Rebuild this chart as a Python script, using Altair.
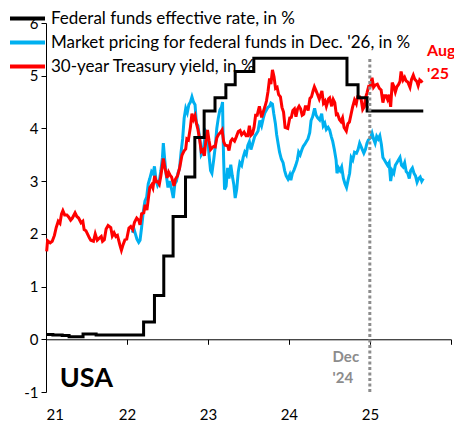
import altair as alt
import pandas as pd

# ---------------- data ----------------
S_EFFR = "Federal funds effective rate, in %"
S_MKT = "Market pricing for federal funds in Dec. '26, in %"
S_UST = "30-year Treasury yield, in %"
series_order = [S_EFFR, S_MKT, S_UST]
series_colors = ["#000000", "#00B0F0", "#FF0000"]

effr_dates = ["2021-01-01", "2021-02-01", "2021-03-15", "2021-04-15", "2021-06-17", "2021-08-15",
              "2022-03-17", "2022-05-05", "2022-06-16", "2022-07-28", "2022-09-22", "2022-11-03",
              "2022-12-15", "2023-02-02", "2023-03-23", "2023-05-04", "2023-07-27", "2024-09-19",
              "2024-11-08", "2024-12-19", "2025-08-29"]
effr_values = [0.09, 0.08, 0.07, 0.05, 0.10, 0.08,
               0.33, 0.83, 1.58, 2.33, 3.08, 3.83,
               4.33, 4.58, 4.83, 5.08, 5.33, 4.83,
               4.58, 4.33, 4.33]

ust_dates = ["2021-01-04", "2021-01-08", "2021-01-20", "2021-01-29", "2021-02-08", "2021-02-16", "2021-02-25",
             "2021-03-05", "2021-03-12", "2021-03-18", "2021-03-26", "2021-04-05", "2021-04-13", "2021-04-22",
             "2021-04-30", "2021-05-12", "2021-05-20", "2021-05-28", "2021-06-08", "2021-06-16", "2021-06-22",
             "2021-06-30", "2021-07-08", "2021-07-16", "2021-07-22", "2021-08-03", "2021-08-11", "2021-08-20",
             "2021-08-27", "2021-09-07", "2021-09-13", "2021-09-21", "2021-09-29", "2021-10-08", "2021-10-20",
             "2021-10-27", "2021-11-04", "2021-11-12", "2021-11-19", "2021-11-30", "2021-12-07", "2021-12-15",
             "2021-12-23", "2021-12-31", "2022-01-10", "2022-01-18", "2022-01-27", "2022-02-04", "2022-02-14",
             "2022-02-23", "2022-03-01", "2022-03-08", "2022-03-18", "2022-03-24", "2022-04-01", "2022-04-08",
             "2022-04-14", "2022-04-22", "2022-04-28", "2022-05-06", "2022-05-13", "2022-05-20", "2022-05-27",
             "2022-06-03", "2022-06-14", "2022-06-21", "2022-07-01", "2022-07-08", "2022-07-15", "2022-07-21",
             "2022-08-01", "2022-08-08", "2022-08-17", "2022-08-26", "2022-09-06", "2022-09-15", "2022-09-23",
             "2022-09-28", "2022-10-05", "2022-10-14", "2022-10-21", "2022-10-28", "2022-11-04", "2022-11-10",
             "2022-11-17", "2022-11-25", "2022-12-02", "2022-12-09", "2022-12-16", "2022-12-22", "2022-12-30",
             "2023-01-06", "2023-01-13", "2023-01-19", "2023-01-27", "2023-02-03", "2023-02-10", "2023-02-17",
             "2023-02-28", "2023-03-06", "2023-03-13", "2023-03-20", "2023-03-31", "2023-04-06", "2023-04-14",
             "2023-04-21", "2023-05-01", "2023-05-09", "2023-05-18", "2023-05-26", "2023-06-02", "2023-06-13",
             "2023-06-22", "2023-06-30", "2023-07-07", "2023-07-14", "2023-07-21", "2023-07-28", "2023-08-04",
             "2023-08-11", "2023-08-21", "2023-08-31", "2023-09-08", "2023-09-15", "2023-09-22", "2023-09-29",
             "2023-10-06", "2023-10-12", "2023-10-19", "2023-10-26", "2023-11-02", "2023-11-09", "2023-11-16",
             "2023-11-24", "2023-12-01", "2023-12-08", "2023-12-15", "2023-12-27", "2024-01-05", "2024-01-12",
             "2024-01-19", "2024-01-26", "2024-02-02", "2024-02-09", "2024-02-16", "2024-02-23", "2024-03-01",
             "2024-03-08", "2024-03-15", "2024-03-22", "2024-03-28", "2024-04-05", "2024-04-12", "2024-04-19",
             "2024-04-25", "2024-05-01", "2024-05-10", "2024-05-17", "2024-05-29", "2024-06-05", "2024-06-12",
             "2024-06-18", "2024-06-28", "2024-07-03", "2024-07-12", "2024-07-19", "2024-07-26", "2024-08-02",
             "2024-08-08", "2024-08-16", "2024-08-23", "2024-08-30", "2024-09-06", "2024-09-16", "2024-09-23",
             "2024-09-30", "2024-10-07", "2024-10-14", "2024-10-23", "2024-10-31", "2024-11-06", "2024-11-15",
             "2024-11-22", "2024-11-29", "2024-12-06", "2024-12-13", "2024-12-18", "2024-12-26", "2025-01-02",
             "2025-01-10", "2025-01-17", "2025-01-24", "2025-02-03", "2025-02-12", "2025-02-20", "2025-02-28",
             "2025-03-07", "2025-03-14", "2025-03-21", "2025-03-28", "2025-04-04", "2025-04-11", "2025-04-18",
             "2025-04-25", "2025-05-02", "2025-05-09", "2025-05-16", "2025-05-21", "2025-05-30", "2025-06-06",
             "2025-06-13", "2025-06-20", "2025-06-30", "2025-07-07", "2025-07-15", "2025-07-22", "2025-07-31",
             "2025-08-06", "2025-08-13", "2025-08-20", "2025-08-26"]
ust_values = [1.67, 1.87, 1.83, 1.86, 1.97, 2.12, 2.24,
              2.20, 2.38, 2.44, 2.36, 2.36, 2.32, 2.26,
              2.30, 2.40, 2.33, 2.30, 2.21, 2.24, 2.08,
              2.06, 1.99, 1.92, 1.88, 1.86, 2.00, 1.88,
              1.91, 1.95, 1.86, 1.89, 2.09, 2.16, 2.12,
              1.96, 2.02, 1.95, 1.97, 1.79, 1.69, 1.80,
              1.89, 1.90, 2.11, 2.14, 2.08, 2.22, 2.30,
              2.26, 2.17, 2.38, 2.40, 2.55, 2.45, 2.69,
              2.88, 2.93, 2.87, 3.10, 2.99, 2.99, 2.94,
              3.10, 3.43, 3.26, 3.06, 3.17, 3.11, 3.08,
              2.91, 3.04, 3.10, 3.24, 3.49, 3.57, 3.61,
              3.80, 3.78, 4.02, 4.28, 4.17, 4.24, 4.10,
              3.98, 3.78, 3.56, 3.59, 3.48, 3.74, 3.97,
              3.77, 3.60, 3.63, 3.66, 3.65, 3.82, 3.88,
              3.93, 3.97, 3.75, 3.68, 3.67, 3.58, 3.76,
              3.80, 3.76, 3.84, 3.94, 3.96, 3.88, 3.93,
              3.86, 3.86, 4.05, 3.87, 3.90, 4.02, 4.25,
              4.25, 4.42, 4.21, 4.32, 4.41, 4.52, 4.70,
              4.95, 4.84, 5.11, 4.98, 4.76, 4.78, 4.64,
              4.60, 4.40, 4.31, 4.02, 4.00, 4.20, 4.21,
              4.34, 4.37, 4.22, 4.37, 4.42, 4.37, 4.25,
              4.27, 4.41, 4.41, 4.34, 4.57, 4.60, 4.71,
              4.79, 4.73, 4.64, 4.56, 4.71, 4.48, 4.52,
              4.42, 4.56, 4.58, 4.42, 4.55, 4.49, 4.26,
              4.27, 4.17, 4.13, 4.20, 4.02, 3.95, 4.09,
              4.12, 4.26, 4.40, 4.54, 4.47, 4.60, 4.60,
              4.55, 4.36, 4.41, 4.60, 4.67, 4.80, 4.80,
              4.96, 4.78, 4.82, 4.84, 4.76, 4.73, 4.49,
              4.62, 4.62, 4.55, 4.64, 4.41, 4.87, 4.80,
              4.69, 4.79, 4.83, 4.89, 5.08, 4.92, 4.97,
              4.90, 4.88, 4.78, 4.93, 5.01, 4.93, 4.89,
              4.81, 4.92, 4.89, 4.91]

mkt_dates = ["2022-01-25", "2022-02-01", "2022-02-08", "2022-02-15", "2022-02-23", "2022-03-01", "2022-03-08",
             "2022-03-15", "2022-03-23", "2022-03-31", "2022-04-07", "2022-04-14", "2022-04-22", "2022-04-29",
             "2022-05-05", "2022-05-12", "2022-05-19", "2022-05-26", "2022-06-03", "2022-06-10", "2022-06-14",
             "2022-06-20", "2022-06-27", "2022-07-05", "2022-07-13", "2022-07-21", "2022-07-29", "2022-08-05",
             "2022-08-12", "2022-08-19", "2022-08-26", "2022-09-02", "2022-09-09", "2022-09-16", "2022-09-23",
             "2022-09-30", "2022-10-07", "2022-10-14", "2022-10-21", "2022-10-28", "2022-11-04", "2022-11-10",
             "2022-11-17", "2022-11-28", "2022-12-02", "2022-12-09", "2022-12-16", "2022-12-22", "2022-12-30",
             "2023-01-06", "2023-01-13", "2023-01-19", "2023-01-27", "2023-02-03", "2023-02-10", "2023-02-17",
             "2023-02-24", "2023-03-03", "2023-03-08", "2023-03-10", "2023-03-13", "2023-03-17", "2023-03-24",
             "2023-03-31", "2023-04-06", "2023-04-14", "2023-04-21", "2023-04-28", "2023-05-04", "2023-05-11",
             "2023-05-18", "2023-05-25", "2023-06-02", "2023-06-09", "2023-06-16", "2023-06-23", "2023-06-30",
             "2023-07-07", "2023-07-14", "2023-07-21", "2023-07-31", "2023-08-08", "2023-08-15", "2023-08-23",
             "2023-08-31", "2023-09-08", "2023-09-15", "2023-09-22", "2023-09-29", "2023-10-06", "2023-10-12",
             "2023-10-19", "2023-10-25", "2023-11-01", "2023-11-07", "2023-11-14", "2023-11-20", "2023-11-28",
             "2023-12-06", "2023-12-13", "2023-12-20", "2023-12-28", "2024-01-05", "2024-01-10", "2024-01-17",
             "2024-01-24", "2024-02-01", "2024-02-08", "2024-02-14", "2024-02-21", "2024-02-29", "2024-03-06",
             "2024-03-13", "2024-03-20", "2024-03-27", "2024-04-04", "2024-04-10", "2024-04-17", "2024-04-26",
             "2024-05-03", "2024-05-10", "2024-05-19", "2024-05-28", "2024-06-04", "2024-06-11", "2024-06-18",
             "2024-06-26", "2024-07-03", "2024-07-10", "2024-07-17", "2024-07-24", "2024-08-01", "2024-08-05",
             "2024-08-12", "2024-08-19", "2024-08-26", "2024-09-03", "2024-09-10", "2024-09-17", "2024-09-24",
             "2024-10-01", "2024-10-08", "2024-10-15", "2024-10-23", "2024-11-01", "2024-11-08", "2024-11-15",
             "2024-11-22", "2024-12-04", "2024-12-11", "2024-12-18", "2024-12-24", "2025-01-03", "2025-01-10",
             "2025-01-17", "2025-01-24", "2025-01-31", "2025-02-07", "2025-02-14", "2025-02-21", "2025-02-28",
             "2025-03-07", "2025-03-14", "2025-03-21", "2025-03-28", "2025-04-04", "2025-04-11", "2025-04-18",
             "2025-04-25", "2025-05-02", "2025-05-09", "2025-05-16", "2025-05-23", "2025-05-30", "2025-06-06",
             "2025-06-13", "2025-06-20", "2025-06-27", "2025-07-03", "2025-07-11", "2025-07-18", "2025-07-25",
             "2025-08-01", "2025-08-08", "2025-08-15", "2025-08-22", "2025-08-29"]
mkt_values = [2.02, 2.10, 2.00, 1.90, 1.84, 1.88, 2.12,
              2.40, 2.62, 2.70, 2.95, 3.05, 3.18, 3.14,
              3.28, 3.02, 2.92, 2.98, 3.20, 3.45, 3.72,
              3.42, 3.12, 2.88, 3.00, 2.85, 2.68, 2.95,
              3.00, 3.15, 3.24, 3.55, 3.80, 4.20, 4.38,
              4.30, 4.45, 4.50, 4.60, 4.50, 4.45, 4.10,
              4.05, 3.72, 3.50, 3.55, 3.75, 3.95, 3.90,
              3.50, 3.20, 3.15, 3.40, 3.65, 4.00, 4.20,
              4.35, 4.40, 4.50, 3.95, 3.40, 2.84, 2.90,
              3.25, 3.05, 3.31, 3.10, 2.93, 2.68, 2.85,
              3.18, 3.35, 3.30, 3.45, 3.55, 3.50, 3.68,
              3.75, 3.60, 3.70, 3.85, 3.90, 3.95, 4.15,
              4.05, 4.20, 4.30, 4.35, 4.40, 4.42, 4.48,
              4.46, 4.28, 4.10, 3.88, 3.70, 3.55, 3.42,
              3.35, 3.20, 3.10, 3.04, 3.12, 3.02, 3.15,
              3.21, 3.30, 3.40, 3.55, 3.50, 3.60, 3.66,
              3.70, 3.75, 3.80, 3.92, 4.15, 4.22, 4.38,
              4.25, 4.20, 4.16, 4.28, 4.05, 4.10, 3.98,
              4.02, 3.97, 3.85, 3.75, 3.60, 3.40, 3.15,
              3.25, 3.20, 3.27, 3.05, 2.95, 2.88, 3.02,
              3.15, 3.45, 3.40, 3.55, 3.53, 3.60, 3.72,
              3.65, 3.53, 3.60, 3.72, 3.78, 3.82, 3.91,
              3.80, 3.72, 3.85, 3.80, 3.86, 3.70, 3.45,
              3.40, 3.35, 3.30, 3.35, 3.00, 3.20, 3.15,
              3.30, 3.35, 3.40, 3.45, 3.30, 3.27, 3.35,
              3.18, 3.15, 3.05, 3.20, 3.25, 3.15, 3.10,
              2.98, 3.05, 3.08, 3.00, 3.05]

y_ticks = [-1, 0, 1, 2, 3, 4, 5, 6]
x_tick_years = [2021, 2022, 2023, 2024, 2025, 2026]

marker_date = ["2024-12-31"]
marker_from = [-1.0]
marker_to = [5.35]

usa_label = ["USA"]
usa_pos_date = ["2021-03-04"]
usa_pos_value = [-0.75]

dec_label = ["Dec", "'24"]
dec_pos_date = ["2024-07-16", "2024-07-16"]
dec_pos_value = [-0.34, -0.74]

aug_label = ["Aug", "'25"]
aug_pos_date = ["2025-09-15", "2025-09-15"]
aug_pos_value = [5.46, 5.03]

# ---------------- tables ----------------
effr_df = pd.DataFrame({"date": effr_dates, "value": effr_values, "series": S_EFFR})
ust_df = pd.DataFrame({"date": ust_dates, "value": ust_values, "series": S_UST})
mkt_df = pd.DataFrame({"date": mkt_dates, "value": mkt_values, "series": S_MKT})
marker_df = pd.DataFrame({"date": marker_date, "y1": marker_from, "y2": marker_to})
usa_df = pd.DataFrame({"date": usa_pos_date, "value": usa_pos_value, "label": usa_label})
dec_df = pd.DataFrame({"date": dec_pos_date, "value": dec_pos_value, "label": dec_label})
aug_df = pd.DataFrame({"date": aug_pos_date, "value": aug_pos_value, "label": aug_label})

FONT = "Lato"
W, H = 405, 369

x_scale = alt.Scale(domain=[alt.DateTime(year=2021, month=1, date=1),
                            alt.DateTime(year=2026, month=1, date=1)])
y_scale = alt.Scale(domain=[-1, 6], nice=False, zero=False)

x_axis = alt.Axis(
    values=[alt.DateTime(year=y, month=1, date=1) for y in x_tick_years],
    format="%y",
    labelExpr="year(datum.value) >= 2026 ? '' : datum.label",
    offset=-(H / 7.0),
    tickSize=5, tickColor="black", domainColor="black", domainWidth=1, tickWidth=1,
    labelPadding=63, labelFontSize=15, labelFont=FONT, labelColor="black",
    grid=False, title=None,
)
y_axis = alt.Axis(
    values=y_ticks, tickSize=5, tickColor="black", domainColor="black",
    labelExpr="'' + datum.value",
    labelFontSize=15, labelFont=FONT, labelColor="black", labelPadding=3,
    grid=False, title=None,
)

legend = alt.Legend(
    orient="none", legendX=-38, legendY=-13, title=None, symbolType="stroke",
    symbolSize=1225, symbolStrokeWidth=4, labelFontSize=17, labelFont=FONT,
    labelColor="black", clipHeight=17, rowPadding=6, labelOffset=4, labelLimit=600,
    padding=0,
)
color = alt.Color("series:N", scale=alt.Scale(domain=series_order, range=series_colors),
                  legend=legend)

X = alt.X("date:T", scale=x_scale, axis=x_axis)
Y = alt.Y("value:Q", scale=y_scale, axis=y_axis)

blue = alt.Chart(mkt_df).mark_line(strokeWidth=3).encode(x=X, y=Y, color=color)
red = alt.Chart(ust_df).mark_line(strokeWidth=3).encode(x=X, y=Y, color=color)
black = alt.Chart(effr_df).mark_line(strokeWidth=3, interpolate="step-after").encode(x=X, y=Y, color=color)

marker = alt.Chart(marker_df).mark_rule(color="#8C8C8C", strokeWidth=3, strokeDash=[3, 2.5]).encode(
    x="date:T", y="y1:Q", y2="y2:Q")

usa = alt.Chart(usa_df).mark_text(align="left", baseline="middle", font=FONT, fontSize=27,
                                  fontWeight="bold", color="black").encode(
    x="date:T", y="value:Q", text="label:N")
dec = alt.Chart(dec_df).mark_text(align="left", baseline="middle", font=FONT, fontSize=15,
                                  fontWeight="bold", color="#8C8C8C").encode(
    x="date:T", y="value:Q", text="label:N")
aug = alt.Chart(aug_df).mark_text(align="left", baseline="middle", font=FONT, fontSize=16,
                                  fontWeight="bold", color="#FF0000").encode(
    x="date:T", y="value:Q", text="label:N")

chart = alt.layer(blue, red, black, marker, usa, dec, aug).properties(
    width=W, height=H,
    autosize=alt.AutoSizeParams(type="none"),
    padding={"left": 38, "top": 15, "right": 3, "bottom": 30},
).configure_view(stroke=None)

chart.save("out.html", embed_options={"renderer": "svg", "actions": False})
